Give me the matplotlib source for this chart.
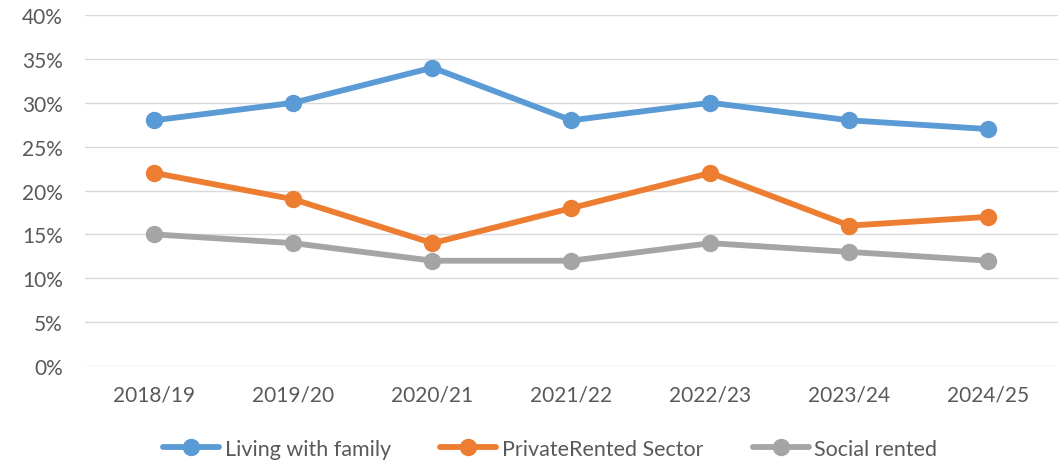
import numpy as np
import matplotlib.pyplot as plt
from matplotlib.ticker import PercentFormatter

plt.rcParams['font.family'] = ['Lato', 'DejaVu Sans']

# Data
years = ['2018/19', '2019/20', '2020/21', '2021/22', '2022/23', '2023/24', '2024/25']
family = [28, 30, 34, 28, 30, 28, 27]
private_rented = [22, 19, 14, 18, 22, 16, 17]
social_rented = [15, 14, 12, 12, 14, 13, 12]

series = [
    ('Living with family', family, '#5B9BD5'),
    ('PrivateRented Sector', private_rented, '#ED7D31'),
    ('Social rented', social_rented, '#A5A5A5'),
]

fig = plt.figure(figsize=(10.58, 4.64), dpi=100)
ax = fig.add_axes([0.0803, 0.209, 0.9197, 0.7565])

x = np.arange(len(years))
for name, vals, col in series:
    ax.plot(x, vals, color=col, lw=4.2, marker='o', ms=11.5, label=name,
            solid_capstyle='round')

ax.set_xlim(-0.5, len(years) - 0.5)
ax.set_ylim(0, 40)
ax.set_yticks(np.arange(0, 41, 5))
ax.yaxis.set_major_formatter(PercentFormatter(decimals=0))
ax.set_xticks(x)
ax.set_xticklabels(years)

ax.grid(axis='y', color='#D9D9D9', lw=1)
ax.set_axisbelow(True)
for s in ax.spines.values():
    s.set_visible(False)
ax.tick_params(length=0, labelsize=15, colors='#595959')
ax.tick_params(axis='y', pad=16)
ax.tick_params(axis='x', pad=13)

fig.legend(loc='center', bbox_to_anchor=(0.52, 1 - 450 / 464), ncol=3, frameon=False,
           fontsize=15.5, labelcolor='#595959', handlelength=2.6, columnspacing=2.3,
           handletextpad=0.25, borderpad=0)

plt.savefig('out.png', dpi=100)
